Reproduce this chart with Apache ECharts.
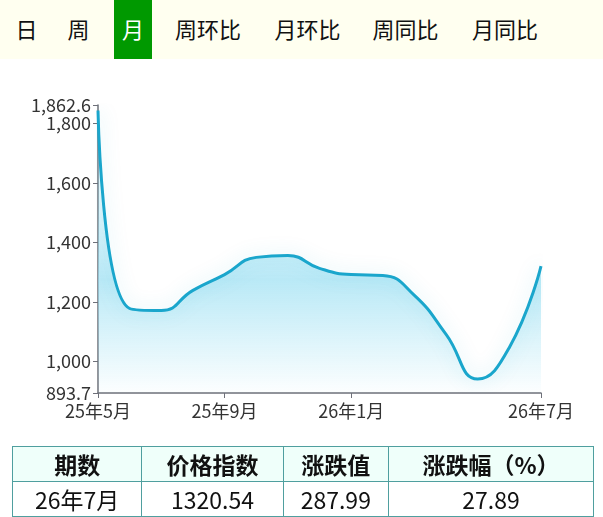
<!DOCTYPE html>
<html>
<head>
<meta charset="utf-8">
<script src="https://cdn.jsdelivr.net/npm/echarts@6/dist/echarts.min.js"></script>
<style>
  html, body { margin:0; padding:0; width:603px; height:517px; overflow:hidden; background:#fff;
    font-family:"Noto Sans CJK SC","Noto Sans",sans-serif; }
  #chart { position:absolute; left:0; top:0; width:603px; height:517px; }
  #tabs { position:absolute; left:0; top:0; width:603px; height:59px; background:#fffff0; z-index:2; }
  .tab { position:absolute; top:0; height:59px; line-height:57px; text-align:center; font-size:22px; color:#111; }
  .tab.on { background:#009900; color:#fff; }
  #tbl { position:absolute; left:12px; top:446px; width:582px; border-collapse:collapse; z-index:2; }
  #tbl td, #tbl th { border:1.5px solid #4f9f9f; text-align:center; padding:0; font-size:23px; color:#111; }
  #tbl th { background:#effffa; font-weight:bold; height:34px; }
  #tbl td { height:31px; }
</style>
</head>
<body>
<div id="chart"></div>
<div id="tabs"></div>
<table id="tbl"><thead><tr id="thead"></tr></thead><tbody><tr id="trow"></tr></tbody></table>
<script>
// ---- data ----
const tabLabels = ['日', '周', '月', '周环比', '月环比', '周同比', '月同比'];
const activeTab = '月';
const months = ['25年5月','25年6月','25年7月','25年8月','25年9月','25年10月','25年11月','25年12月',
                '26年1月','26年2月','26年3月','26年4月','26年5月','26年6月','26年7月'];
const priceIndex = [1844.2, 1178, 1171, 1239, 1292, 1350, 1356, 1313, 1292, 1289, 1222, 1091, 940.7, 1047, 1320.54];
const shownMonthLabels = ['25年5月', '25年9月', '26年1月', '26年7月'];
const yMin = 893.7;
const yMax = 1862.6;
const tableHeader = ['期数', '价格指数', '涨跌值', '涨跌幅（%）'];
const tableRow = ['26年7月', '1320.54', '287.99', '27.89'];

// ---- tabs ----
const tabBoxes = [[7,39],[59,39],[114,38],[166,84],[266,83],[364,83],[463,84]];
const tabsEl = document.getElementById('tabs');
tabLabels.forEach((t, i) => {
  const d = document.createElement('div');
  d.className = 'tab' + (t === activeTab ? ' on' : '');
  d.style.left = tabBoxes[i][0] + 'px';
  d.style.width = tabBoxes[i][1] + 'px';
  d.textContent = t;
  tabsEl.appendChild(d);
});

// ---- table ----
const colW = [130, 141, 105, 206];
const th = document.getElementById('thead');
tableHeader.forEach((h, i) => { const c = document.createElement('th'); c.textContent = h; c.style.width = colW[i] + 'px'; th.appendChild(c); });
const tr = document.getElementById('trow');
tableRow.forEach(v => { const c = document.createElement('td'); c.textContent = v; tr.appendChild(c); });

// ---- chart ----
const chart = echarts.init(document.getElementById('chart'), null, { renderer: 'canvas' });
const showIdx = (i, v) => shownMonthLabels.indexOf(months[i]) >= 0;
chart.setOption({
  animation: false,
  grid: { left: 98, top: 105, width: 443, height: 288, outerBoundsMode: 'none' },
  xAxis: {
    type: 'category',
    data: months,
    boundaryGap: false,
    axisLine: { lineStyle: { color: '#6e7079', width: 1.5 } },
    axisTick: { interval: showIdx, length: 5, lineStyle: { color: '#6e7079' } },
    axisLabel: { interval: showIdx, color: '#333', fontSize: 18, margin: 9,
      fontFamily: 'Noto Sans CJK SC' },
    splitLine: { show: false }
  },
  yAxis: {
    type: 'value',
    min: yMin,
    max: yMax,
    axisLine: { show: true, lineStyle: { color: '#6e7079', width: 1.5 } },
    axisTick: { show: true, length: 5, lineStyle: { color: '#6e7079' } },
    axisLabel: { color: '#333', fontSize: 18, margin: 7, fontFamily: 'Noto Sans CJK SC' },
    splitLine: { show: false }
  },
  series: [{
    type: 'line',
    data: priceIndex,
    smooth: true,
    symbol: 'none',
    lineStyle: { color: '#1aa6cc', width: 3, shadowColor: 'rgba(26,166,204,0.25)', shadowBlur: 18 },
    areaStyle: {
      color: new echarts.graphic.LinearGradient(0, 0, 0, 1, [
        { offset: 0, color: 'rgba(150,222,242,0)' },
        { offset: 0.35, color: 'rgba(150,222,242,0.45)' },
        { offset: 0.6, color: 'rgba(150,222,242,0.95)' },
        { offset: 1, color: 'rgba(150,222,242,0.03)' }
      ])
    }
  }]
});
</script>
</body>
</html>
